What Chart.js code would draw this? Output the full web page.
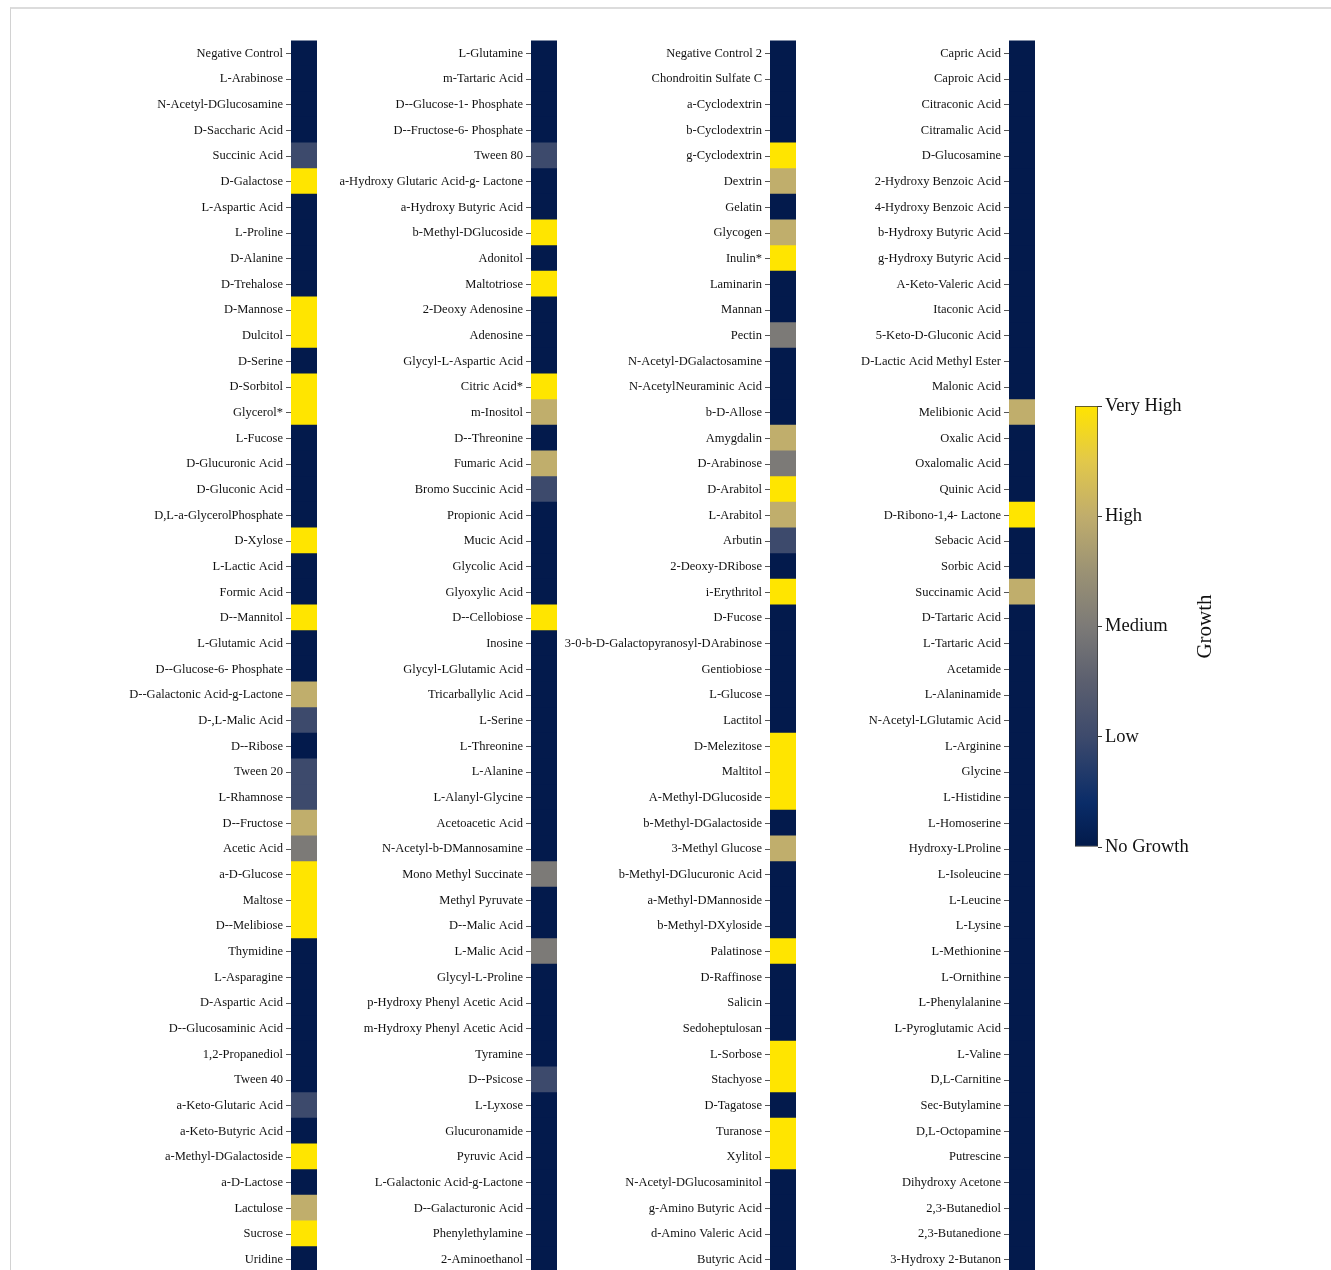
<!DOCTYPE html>
<html>
<head>
<meta charset="utf-8">
<title>Growth heatmap</title>
<script src="https://cdn.jsdelivr.net/npm/chart.js@4.4.1/dist/chart.umd.min.js"></script>
<style>
  html, body { margin: 0; padding: 0; background: #fff; overflow: hidden; width: 1331px; height: 1270px; }
  #frame { position: absolute; left: 10px; top: 7px; width: 1340px; height: 1290px;
           border-top: 2px solid #dcdcdc; border-left: 1px solid #d2d2d2; }
  canvas { position: absolute; }
</style>
</head>
<body>
<div id="frame"></div>
<canvas id="col1"></canvas>
<canvas id="col2"></canvas>
<canvas id="col3"></canvas>
<canvas id="col4"></canvas>
<canvas id="cbar"></canvas>
<script>
// Growth levels: 0 = No Growth ... 4 = Very High
const growthLevels = ["No Growth", "Low", "Medium", "High", "Very High"];
const levelColors = ["#031a4c", "#3d4a6c", "#7c7a77", "#c0ae6c", "#ffe500"];

const labels1 = ["Negative Control", "L-Arabinose", "N-Acetyl-DGlucosamine", "D-Saccharic Acid", "Succinic Acid",
  "D-Galactose", "L-Aspartic Acid", "L-Proline", "D-Alanine", "D-Trehalose", "D-Mannose", "Dulcitol", "D-Serine",
  "D-Sorbitol", "Glycerol*", "L-Fucose", "D-Glucuronic Acid", "D-Gluconic Acid", "D,L-a-GlycerolPhosphate",
  "D-Xylose", "L-Lactic Acid", "Formic Acid", "D--Mannitol", "L-Glutamic Acid", "D--Glucose-6- Phosphate",
  "D--Galactonic Acid-g-Lactone", "D-,L-Malic Acid", "D--Ribose", "Tween 20", "L-Rhamnose", "D--Fructose",
  "Acetic Acid", "a-D-Glucose", "Maltose", "D--Melibiose", "Thymidine", "L-Asparagine", "D-Aspartic Acid",
  "D--Glucosaminic Acid", "1,2-Propanediol", "Tween 40", "a-Keto-Glutaric Acid", "a-Keto-Butyric Acid",
  "a-Methyl-DGalactoside", "a-D-Lactose", "Lactulose", "Sucrose", "Uridine"];
const values1 = [0, 0, 0, 0, 1, 4, 0, 0, 0, 0,
  4, 4, 0, 4, 4, 0, 0, 0, 0, 4,
  0, 0, 4, 0, 0, 3, 1, 0, 1, 1,
  3, 2, 4, 4, 4, 0, 0, 0, 0, 0,
  0, 1, 0, 4, 0, 3, 4, 0];

const labels2 = ["L-Glutamine", "m-Tartaric Acid", "D--Glucose-1- Phosphate", "D--Fructose-6- Phosphate", "Tween 80",
  "a-Hydroxy Glutaric Acid-g- Lactone", "a-Hydroxy Butyric Acid", "b-Methyl-DGlucoside", "Adonitol", "Maltotriose",
  "2-Deoxy Adenosine", "Adenosine", "Glycyl-L-Aspartic Acid", "Citric Acid*", "m-Inositol", "D--Threonine",
  "Fumaric Acid", "Bromo Succinic Acid", "Propionic Acid", "Mucic Acid", "Glycolic Acid", "Glyoxylic Acid",
  "D--Cellobiose", "Inosine", "Glycyl-LGlutamic Acid", "Tricarballylic Acid", "L-Serine", "L-Threonine",
  "L-Alanine", "L-Alanyl-Glycine", "Acetoacetic Acid", "N-Acetyl-b-DMannosamine", "Mono Methyl Succinate",
  "Methyl Pyruvate", "D--Malic Acid", "L-Malic Acid", "Glycyl-L-Proline", "p-Hydroxy Phenyl Acetic Acid",
  "m-Hydroxy Phenyl Acetic Acid", "Tyramine", "D--Psicose", "L-Lyxose", "Glucuronamide", "Pyruvic Acid",
  "L-Galactonic Acid-g-Lactone", "D--Galacturonic Acid", "Phenylethylamine", "2-Aminoethanol"];
const values2 = [0, 0, 0, 0, 1, 0, 0, 4, 0, 4,
  0, 0, 0, 4, 3, 0, 3, 1, 0, 0,
  0, 0, 4, 0, 0, 0, 0, 0, 0, 0,
  0, 0, 2, 0, 0, 2, 0, 0, 0, 0,
  1, 0, 0, 0, 0, 0, 0, 0];

const labels3 = ["Negative Control 2", "Chondroitin Sulfate C", "a-Cyclodextrin", "b-Cyclodextrin", "g-Cyclodextrin",
  "Dextrin", "Gelatin", "Glycogen", "Inulin*", "Laminarin", "Mannan", "Pectin", "N-Acetyl-DGalactosamine",
  "N-AcetylNeuraminic Acid", "b-D-Allose", "Amygdalin", "D-Arabinose", "D-Arabitol", "L-Arabitol", "Arbutin",
  "2-Deoxy-DRibose", "i-Erythritol", "D-Fucose", "3-0-b-D-Galactopyranosyl-DArabinose", "Gentiobiose",
  "L-Glucose", "Lactitol", "D-Melezitose", "Maltitol", "A-Methyl-DGlucoside", "b-Methyl-DGalactoside",
  "3-Methyl Glucose", "b-Methyl-DGlucuronic Acid", "a-Methyl-DMannoside", "b-Methyl-DXyloside", "Palatinose",
  "D-Raffinose", "Salicin", "Sedoheptulosan", "L-Sorbose", "Stachyose", "D-Tagatose", "Turanose", "Xylitol",
  "N-Acetyl-DGlucosaminitol", "g-Amino Butyric Acid", "d-Amino Valeric Acid", "Butyric Acid"];
const values3 = [0, 0, 0, 0, 4, 3, 0, 3, 4, 0,
  0, 2, 0, 0, 0, 3, 2, 4, 3, 1,
  0, 4, 0, 0, 0, 0, 0, 4, 4, 4,
  0, 3, 0, 0, 0, 4, 0, 0, 0, 4,
  4, 0, 4, 4, 0, 0, 0, 0];

const labels4 = ["Capric Acid", "Caproic Acid", "Citraconic Acid", "Citramalic Acid", "D-Glucosamine",
  "2-Hydroxy Benzoic Acid", "4-Hydroxy Benzoic Acid", "b-Hydroxy Butyric Acid", "g-Hydroxy Butyric Acid",
  "A-Keto-Valeric Acid", "Itaconic Acid", "5-Keto-D-Gluconic Acid", "D-Lactic Acid Methyl Ester", "Malonic Acid",
  "Melibionic Acid", "Oxalic Acid", "Oxalomalic Acid", "Quinic Acid", "D-Ribono-1,4- Lactone", "Sebacic Acid",
  "Sorbic Acid", "Succinamic Acid", "D-Tartaric Acid", "L-Tartaric Acid", "Acetamide", "L-Alaninamide",
  "N-Acetyl-LGlutamic Acid", "L-Arginine", "Glycine", "L-Histidine", "L-Homoserine", "Hydroxy-LProline",
  "L-Isoleucine", "L-Leucine", "L-Lysine", "L-Methionine", "L-Ornithine", "L-Phenylalanine",
  "L-Pyroglutamic Acid", "L-Valine", "D,L-Carnitine", "Sec-Butylamine", "D,L-Octopamine", "Putrescine",
  "Dihydroxy Acetone", "2,3-Butanediol", "2,3-Butanedione", "3-Hydroxy 2-Butanon"];
const values4 = [0, 0, 0, 0, 0, 0, 0, 0, 0, 0,
  0, 0, 0, 0, 3, 0, 0, 0, 4, 0,
  0, 3, 0, 0, 0, 0, 0, 0, 0, 0,
  0, 0, 0, 0, 0, 0, 0, 0, 0, 0,
  0, 0, 0, 0, 0, 0, 0, 0];

const serif = "'Liberation Serif', 'Times New Roman', serif";
const AXIS_W = 240;   // room for the row labels
const STRIP_W = 26;   // width of one heatmap strip

// One vertical strip of cells with its labels on the left
function makeStrip(id, stripLeft, labels, values) {
  const canvas = document.getElementById(id);
  canvas.width = AXIS_W + STRIP_W;
  canvas.height = 1283;
  canvas.style.left = (stripLeft - AXIS_W) + "px";
  canvas.style.top = "0px";

  new Chart(canvas, {
    type: "bar",
    data: {
      labels: labels,
      datasets: [{
        data: values.map(() => 1),
        backgroundColor: values.map(v => levelColors[v]),
        borderWidth: 0,
        inflateAmount: 0.7,   // overlap neighbours a little so no seams show
        barPercentage: 1,
        categoryPercentage: 1,
      }],
    },
    options: {
      indexAxis: "y",
      responsive: false,
      animation: false,
      layout: { padding: { top: 40.5, bottom: 0, left: 0, right: 0 } },
      plugins: { legend: { display: false }, tooltip: { enabled: false } },
      scales: {
        x: { display: false, min: 0, max: 1 },
        y: {
          afterFit: (scale) => { scale.width = AXIS_W; },
          grid: { drawOnChartArea: false, offset: false, tickLength: 5, color: "#555", lineWidth: 1 },
          border: { display: false },
          ticks: { autoSkip: false, padding: 3, color: "#111", font: { family: serif, size: 12.5 } },
        },
      },
    },
  });
}

makeStrip("col1", 291, labels1, values1);
makeStrip("col2", 531, labels2, values2);
makeStrip("col3", 770, labels3, values3);
makeStrip("col4", 1009, labels4, values4);

// Colour bar
const cbStops = [
  [0.0, "#021a4a"], [0.1, "#0a2c68"], [0.25, "#3d4a6c"], [0.375, "#5b5f6f"],
  [0.5, "#7c7a77"], [0.625, "#9b9274"], [0.75, "#c0ad6c"], [0.875, "#e2c84a"], [1.0, "#ffe400"],
];

const growthTitle = {
  id: "growthTitle",
  afterDraw(chart) {
    const { ctx, chartArea } = chart;
    ctx.save();
    ctx.translate(130, (chartArea.top + chartArea.bottom) / 2);
    ctx.rotate(-Math.PI / 2);
    ctx.textAlign = "center";
    ctx.textBaseline = "middle";
    ctx.fillStyle = "#111";
    ctx.font = "21px " + serif;
    ctx.fillText("Growth", 0, 0);
    ctx.restore();
  },
};

const cbCanvas = document.getElementById("cbar");
cbCanvas.width = 160;
cbCanvas.height = 500;
cbCanvas.style.left = "1075px";
cbCanvas.style.top = "376px";

new Chart(cbCanvas, {
  type: "bar",
  data: {
    labels: [""],
    datasets: [{
      data: [growthLevels.length - 1],
      backgroundColor: (c) => {
        const area = c.chart.chartArea;
        if (!area) return levelColors[0];
        const g = c.chart.ctx.createLinearGradient(0, area.bottom, 0, area.top);
        cbStops.forEach(([p, col]) => g.addColorStop(p, col));
        return g;
      },
      borderColor: "#333",
      borderWidth: 1,
      borderSkipped: false,
      barPercentage: 1,
      categoryPercentage: 1,
    }],
  },
  options: {
    responsive: false,
    animation: false,
    layout: { padding: { top: 30, bottom: 29, left: 0, right: 0 } },
    plugins: { legend: { display: false }, tooltip: { enabled: false } },
    scales: {
      x: { display: false },
      y: {
        position: "right",
        min: 0,
        max: 4,
        afterFit: (scale) => { scale.width = 160 - 23; },
        grid: { drawOnChartArea: false, tickLength: 4, color: "#333" },
        border: { display: false },
        ticks: {
          stepSize: 1,
          padding: 3,
          color: "#111",
          font: { family: serif, size: 18.5 },
          callback: (v) => growthLevels[v],
        },
      },
    },
  },
  plugins: [growthTitle],
});
</script>
</body>
</html>
